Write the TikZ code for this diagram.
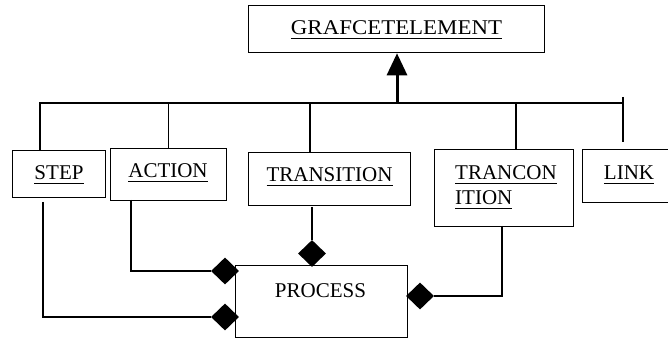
\documentclass[tikz,border=0pt]{standalone}
\usepackage{fontspec}
\setmainfont{Liberation Serif}
\usetikzlibrary{shapes.geometric,arrows.meta}
\newcommand\ulx[1]{\setbox0\hbox{#1}\rlap{\rule[-4.5pt]{\wd0}{1.3pt}}\box0}
\begin{document}
\begin{tikzpicture}[x=1pt,y=-1pt,
  box/.style={draw,line width=1.3pt,inner sep=0pt,anchor=north west},
  lbl/.style={font=\fontsize{21}{25}\selectfont,inner sep=0pt,anchor=base},
  conn/.style={line width=1.3pt},
  dia/.style={diamond,fill=black,inner sep=0pt,minimum width=28pt,minimum height=27pt},
  inh/.style={line width=3pt,-{Triangle[width=20pt,length=22pt]}}]
\useasboundingbox (0,0) rectangle (668,344);
% boxes
\node[box,minimum width=296pt,minimum height=47pt] (ge) at (248,5) {};
\node[box,minimum width=93pt,minimum height=47pt] (step) at (12,150) {};
\node[box,minimum width=116pt,minimum height=52pt] (action) at (110,148) {};
\node[box,minimum width=162pt,minimum height=53pt] (trans) at (248,152) {};
\node[box,minimum width=139pt,minimum height=77pt] (tcond) at (434,149) {};
\node[box,minimum width=100pt,minimum height=53pt] (link) at (582,149) {};
\node[box,minimum width=172pt,minimum height=72pt] (proc) at (235,265) {};
% labels
\node[lbl,xscale=1.09] (tge) at (396.5,35) {\ulx{GRAFCETELEMENT}};
\node[lbl] (tstep) at (59,180) {\ulx{STEP}};
\node[lbl] (taction) at (168,178) {\ulx{ACTION}};
\node[lbl] (ttrans) at (329.5,182) {\ulx{TRANSITION}};
\node[lbl,anchor=base west] (ttc1) at (455,180) {\ulx{TRANCON}};
\node[lbl,anchor=base west] (ttc2) at (455,205) {\ulx{ITION}};
\node[lbl] (tlink) at (629,180) {\ulx{LINK}};
\node[lbl] (tproc) at (320.5,297) {PROCESS};
% hierarchy bus
\coordinate (bl) at (40,103);
\coordinate (br) at (623,103);
\coordinate (brt) at (623,97);
\coordinate (lk) at (623,142);
\coordinate (ba) at (397,103);
\draw[conn] (step.north -| bl) -- (bl) -- (br);
\draw[conn] (brt) -- (lk);
\draw[conn] (action.north) -- (action.north |- bl);
\draw[conn] (310,103) -- (310,152);
\draw[conn] (516,103) -- (516,149);
\draw[inh] (ba) -- (ge.south -| ba);
% diamonds
\node[dia] (d1) at (225,271) {};
\node[dia] (d2) at (225,317) {};
\node[dia] (d3) at (312,253.5) {};
\node[dia] (d4) at (420,296) {};
% aggregations
\draw[conn] (131,200) |- (d1.west);
\draw[conn] (43,202) |- (d2.west);
\draw[conn] (312,207) -- (d3.north);
\draw[conn] (502,226) |- (d4.east);
\end{tikzpicture}
\end{document}
